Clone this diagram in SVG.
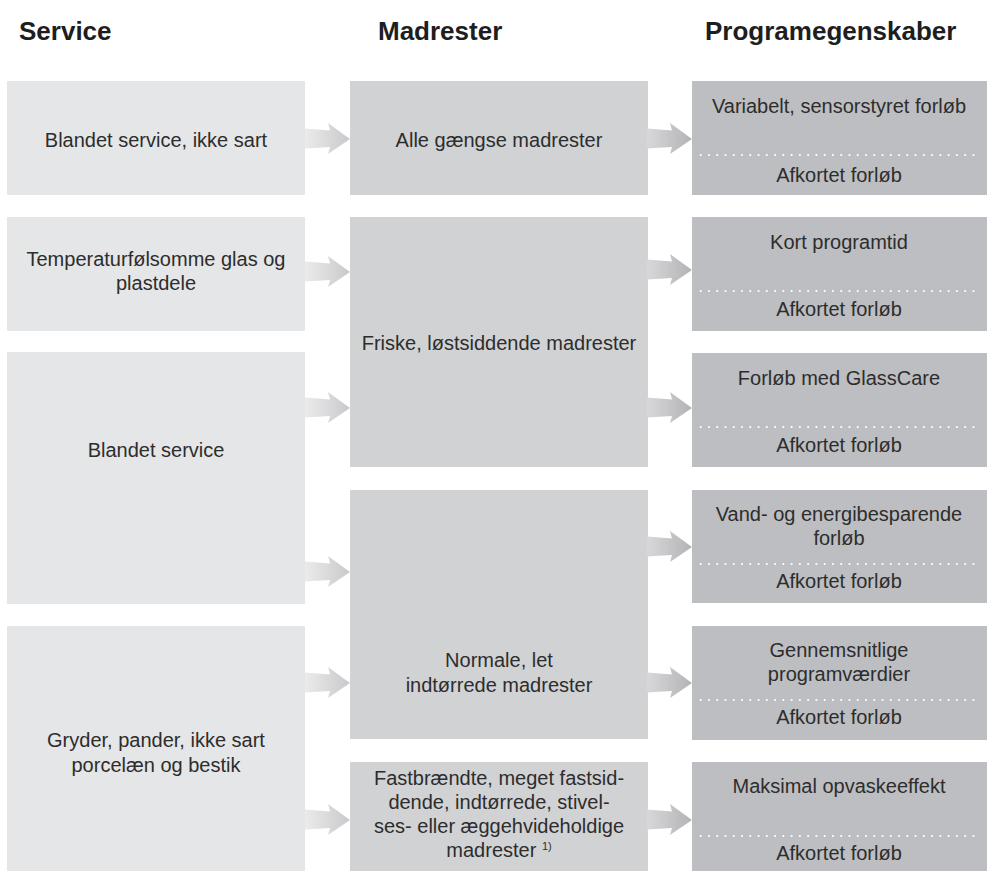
<svg xmlns="http://www.w3.org/2000/svg" xmlns:xlink="http://www.w3.org/1999/xlink" width="987" height="871" viewBox="0 0 987 871">
<defs>
<linearGradient id="g1" x1="0" y1="0" x2="1" y2="0">
<stop offset="0" stop-color="#ebebec"/>
<stop offset="1" stop-color="#c9c9cb"/>
</linearGradient>
<linearGradient id="g2" x1="0" y1="0" x2="1" y2="0">
<stop offset="0" stop-color="#d8d8da"/>
<stop offset="1" stop-color="#b3b3b6"/>
</linearGradient>
<path id="arr" d="M0,-10.5 L25,-8.5 L23,-16 L45,0 L23,15 L25,8 L0,9.5 Z"/>
</defs>
<style>
.h{font-family:"Liberation Sans",Arial,sans-serif;font-weight:bold;font-size:26px;fill:#1e1e1e}
.t{font-family:"Liberation Sans",Arial,sans-serif;font-size:20px;fill:#2d2d2d;text-anchor:middle}
.sup{font-size:11px}
.c1{fill:#e5e6e7}
.c2{fill:#d1d2d4}
.c3{fill:#bdbec1}
.dot{stroke:#ffffff;stroke-width:2.2;stroke-linecap:round;stroke-dasharray:0 8.265;fill:none}
</style>
<rect width="987" height="871" fill="#ffffff"/>
<g id="headers">
<text class="h" x="19" y="40">Service</text>
<text class="h" x="378" y="40">Madrester</text>
<text class="h" x="705" y="40">Programegenskaber</text>
</g>
<g id="s1"><rect class="c1" x="7" y="81" width="298" height="114"/><text class="t" x="156" y="147">Blandet service, ikke sart</text></g>
<g id="s2"><rect class="c1" x="7" y="217" width="298" height="114"/><text class="t" x="156" y="266">Temperaturfølsomme glas og</text><text class="t" x="156" y="290">plastdele</text></g>
<g id="s3"><rect class="c1" x="7" y="352" width="298" height="252"/><text class="t" x="156" y="457">Blandet service</text></g>
<g id="s4"><rect class="c1" x="7" y="626" width="298" height="245"/><text class="t" x="156" y="747">Gryder, pander, ikke sart</text><text class="t" x="156" y="772">porcelæn og bestik</text></g>
<g id="m1"><rect class="c2" x="350" y="81" width="298" height="114"/><text class="t" x="499" y="147">Alle gængse madrester</text></g>
<g id="m2"><rect class="c2" x="350" y="217" width="298" height="250"/><text class="t" x="499" y="350">Friske, løstsiddende madrester</text></g>
<g id="m3"><rect class="c2" x="350" y="490" width="298" height="249"/><text class="t" x="499" y="667">Normale, let</text><text class="t" x="499" y="692">indtørrede madrester</text></g>
<g id="m4"><rect class="c2" x="350" y="762" width="298" height="109"/><text class="t" x="499" y="785">Fastbrændte, meget fastsid-</text><text class="t" x="499" y="809">dende, indtørrede, stivel-</text><text class="t" x="499" y="833">ses- eller æggehvideholdige</text><text class="t" x="499" y="857">madrester <tspan class="sup" dy="-7">1)</tspan></text></g>
<g id="p1"><rect class="c3" x="692" y="81" width="295" height="114"/><text class="t" x="839" y="113">Variabelt, sensorstyret forløb</text><line class="dot" x1="700.7" y1="155" x2="981.7" y2="155"/><text class="t" x="839" y="182">Afkortet forløb</text></g>
<g id="p2"><rect class="c3" x="692" y="217" width="295" height="114"/><text class="t" x="839" y="249">Kort programtid</text><line class="dot" x1="700.7" y1="291" x2="981.7" y2="291"/><text class="t" x="839" y="316">Afkortet forløb</text></g>
<g id="p3"><rect class="c3" x="692" y="353" width="295" height="114"/><text class="t" x="839" y="385">Forløb med GlassCare</text><line class="dot" x1="700.7" y1="427" x2="981.7" y2="427"/><text class="t" x="839" y="452">Afkortet forløb</text></g>
<g id="p4"><rect class="c3" x="692" y="490" width="295" height="113"/><text class="t" x="839" y="521">Vand- og energibesparende</text><text class="t" x="839" y="545">forløb</text><line class="dot" x1="700.7" y1="564" x2="981.7" y2="564"/><text class="t" x="839" y="588">Afkortet forløb</text></g>
<g id="p5"><rect class="c3" x="692" y="626" width="295" height="114"/><text class="t" x="839" y="657">Gennemsnitlige</text><text class="t" x="839" y="681">programværdier</text><line class="dot" x1="700.7" y1="700" x2="981.7" y2="700"/><text class="t" x="839" y="724">Afkortet forløb</text></g>
<g id="p6"><rect class="c3" x="692" y="762" width="295" height="109"/><text class="t" x="839" y="793">Maksimal opvaskeeffekt</text><line class="dot" x1="700.7" y1="836" x2="981.7" y2="836"/><text class="t" x="839" y="860">Afkortet forløb</text></g>
<g id="connectors">
<use xlink:href="#arr" fill="url(#g1)" transform="translate(305,139)"/>
<use xlink:href="#arr" fill="url(#g1)" transform="translate(305,272)"/>
<use xlink:href="#arr" fill="url(#g1)" transform="translate(305,408)"/>
<use xlink:href="#arr" fill="url(#g1)" transform="translate(305,572)"/>
<use xlink:href="#arr" fill="url(#g1)" transform="translate(305,683)"/>
<use xlink:href="#arr" fill="url(#g1)" transform="translate(305,820)"/>
<use xlink:href="#arr" fill="url(#g2)" transform="translate(647,139)"/>
<use xlink:href="#arr" fill="url(#g2)" transform="translate(647,270)"/>
<use xlink:href="#arr" fill="url(#g2)" transform="translate(647,408)"/>
<use xlink:href="#arr" fill="url(#g2)" transform="translate(647,547)"/>
<use xlink:href="#arr" fill="url(#g2)" transform="translate(647,683)"/>
<use xlink:href="#arr" fill="url(#g2)" transform="translate(647,820)"/>
</g>
</svg>
